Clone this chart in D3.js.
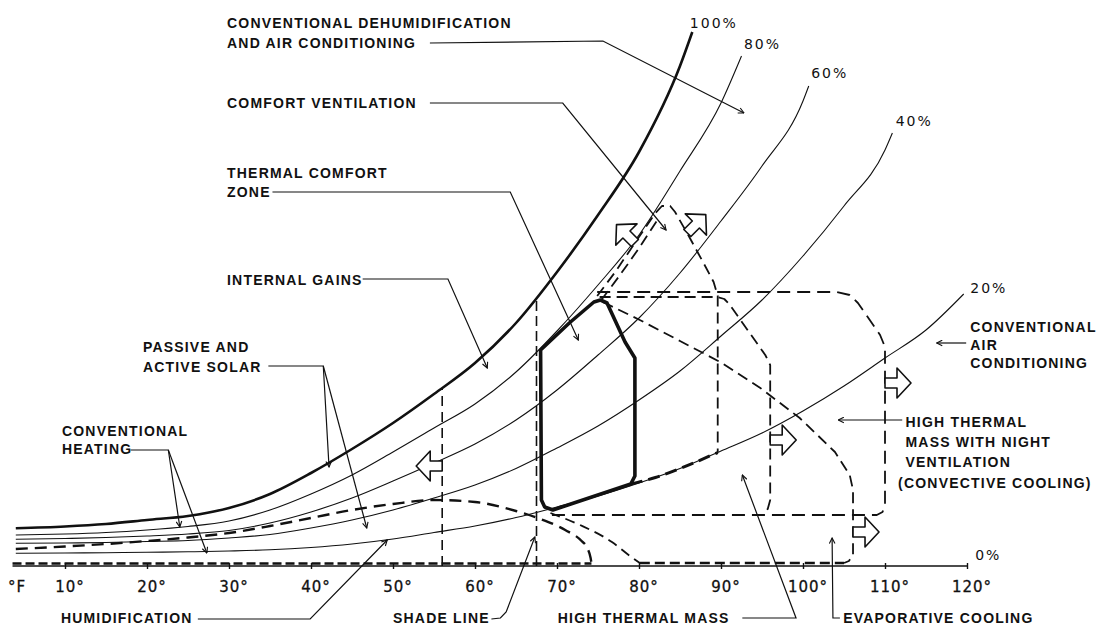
<!DOCTYPE html>
<html>
<head>
<meta charset="utf-8">
<script src="https://cdn.jsdelivr.net/npm/d3@7"></script>
<style>
body{margin:0;background:#fff}
svg{display:block}
.lbl{font-family:"Liberation Sans",Arial,sans-serif;font-weight:bold;font-size:14px;letter-spacing:1.2px;fill:#111}
.num{font-family:"DejaVu Sans",sans-serif;font-size:15px;letter-spacing:1px;fill:#111;stroke:#111;stroke-width:0.3}
.pct{font-family:"DejaVu Sans",sans-serif;font-size:14px;letter-spacing:2px;fill:#111}
</style>
</head>
<body>
<svg id="chart" width="1106" height="627"></svg>
<script>
// dry bulb ticks (deg F)
var tempTicks = [10,20,30,40,50,60,70,80,90,100,110,120];
var rhNames = ["100%","80%","60%","40%","20%","0%"];

// relative humidity curves [deg F, vapour index]
var rh100 = [[4,3.77],[10,3.95],[15,4.2],[20,4.6],[25,5.0],[30,5.8],[35,7.2],[40,9.3],[45,11.7],[50,14.3],[55,17.2],[60,20.3],[65,24.3],[70,29.4],[75,35.1],[80,41.4],[85,50.0],[86.5,53.4]];
var rh80 = [[4,3.1],[10,3.2],[15,3.35],[20,3.6],[25,3.95],[30,4.5],[35,5.6],[40,7.2],[45,9.1],[50,11.4],[55,13.8],[60,16.2],[65,19.4],[70,23.5],[75,28.1],[80,33.1],[85,39.5],[90,46.3],[92.5,51.0]];
var rh60 = [[4,2.67],[10,2.75],[15,2.85],[20,3.0],[25,3.2],[30,3.55],[35,4.3],[40,5.4],[45,6.8],[50,8.5],[55,10.3],[60,12.2],[65,14.6],[70,17.6],[75,21.1],[80,24.8],[85,29.3],[90,34.5],[95,40.0],[100,46.5],[100.7,48.0]];
var rh40 = [[4,2.27],[10,2.3],[15,2.35],[20,2.45],[25,2.55],[30,2.8],[35,3.15],[40,3.8],[45,4.6],[50,5.6],[55,6.8],[60,8.1],[65,9.75],[70,11.8],[75,14.0],[80,16.6],[85,19.5],[90,23.0],[95,26.6],[100,31.0],[105,36.0],[110,41.6],[110.9,43.3]];
var rh20 = [[4,1.27],[10,1.3],[15,1.33],[20,1.37],[25,1.42],[30,1.5],[35,1.62],[40,1.85],[45,2.2],[50,2.7],[55,3.35],[60,4.0],[65,4.85],[70,5.9],[75,7.0],[80,8.3],[85,9.75],[90,11.5],[95,13.3],[100,15.5],[105,18.0],[110,20.8],[115,23.6],[119.6,27.2]];
var rh0 = [[3.6,0],[120,0]];

// zone outlines
var humidTop = [[4,1.7],[10,1.95],[15,2.2],[20,2.5],[25,2.85],[30,3.3],[35,4.0],[40,4.8],[45,5.6],[50,6.2],[55,6.6],[60,6.4],[65,5.5],[68,4.7],[71,3.6],[73,2.5],[73.7,1.8],[74.1,0.8],[74.2,0.3]];
var humidBase = [[3.6,0.25],[74.2,0.25]];
var gainsLine = [[56,0],[56,17.8]];
var shadeLine = [[67.5,0],[67.5,26.8]];
var comfortZone = [[68,21.6],[71.5,24.3],[74.5,26.4],[75.3,26.6],[76.1,26.3],[78.3,22.4],[79.5,20.8],[79.5,9.0],[79.0,8.2],[69.5,5.6],[68.5,5.9],[68.1,6.6]];
var comfortLow = [[79.0,8.2],[82,8.85],[85,9.75],[89.6,11.35]];
var ventZone = [[74.9,27.0],[77.1,29.4],[79.5,32.3],[82.0,35.3],[82.8,36.0],[83.8,36.0],[84.4,35.4],[86.2,32.8],[88.0,30.1],[89.1,28.4],[89.6,27.0],[89.6,11.4]];
var ventEdge = [[75.4,26.6],[77.5,28.9],[80,31.8],[82.4,34.8]];
var massZone = [[75.2,26.9],[89.6,26.9],[90.4,26.7],[91.0,26.2],[95.4,21.1],[96.0,20.1],[96.0,6.6],[95.7,5.7],[95.0,5.3]];
var nightZone = [[74.9,27.4],[104.15,27.4],[105.7,27.1],[106.7,26.3],[109.4,23.1],[110.0,21.9],[110.0,6.1],[109.7,5.4],[109.0,5.1],[69.2,5.1]];
var evapTop = [[75.6,26.4],[80.1,24.6],[85.0,22.5],[89.9,20.4],[94.8,17.8],[99.6,14.8],[103.9,11.4],[105.7,9.1],[106.1,7.6],[106.1,1.1],[105.6,0.5],[105.0,0.3]];
var evapLow = [[69.2,5.3],[72.8,4.1],[76.7,2.4],[78.9,1.0],[80.1,0.3]];
var evapBase = [[80.1,0.3],[105.0,0.3]];

// hollow arrows on the zone edges
var shiftAt = [[56.0,10.0],[79.5,32.3],[85.9,33.3],[96.0,12.6],[110.0,18.3],[106.1,3.4]];
var shiftDir = [180,-135,-45,0,0,0];

// callout texts
var callTexts = ["CONVENTIONAL DEHUMIDIFICATION","AND AIR CONDITIONING","COMFORT VENTILATION","THERMAL COMFORT","ZONE","INTERNAL GAINS","PASSIVE AND","ACTIVE SOLAR","CONVENTIONAL","HEATING","HUMIDIFICATION","SHADE LINE","HIGH THERMAL MASS","EVAPORATIVE COOLING","CONVENTIONAL","AIR","CONDITIONING","HIGH THERMAL","MASS WITH NIGHT","VENTILATION","(CONVECTIVE COOLING)"];

var svg = d3.select("#chart");
var x = d3.scaleLinear().domain([0,120]).range([-17,967]);
var y = d3.scaleLinear().domain([0,54]).range([566,26]);

var smooth = d3.line().x(function(d){return x(d[0]);}).y(function(d){return y(d[1]);}).curve(d3.curveMonotoneX);
var poly = d3.line().x(function(d){return x(d[0]);}).y(function(d){return y(d[1]);});

svg.append("defs").append("marker")
	.attr("id","ah").attr("viewBox","0 0 10 10").attr("refX",9).attr("refY",5)
	.attr("markerWidth",7).attr("markerHeight",7).attr("markerUnits","userSpaceOnUse")
	.attr("orient","auto")
	.append("path").attr("d","M1,1 L9,5 L1,9").attr("fill","none").attr("stroke","#111").attr("stroke-width",1.6);

// RH curves
var curves = [rh100, rh80, rh60, rh40, rh20];
svg.selectAll("path.rh").data(curves).enter().append("path")
	.attr("class","rh")
	.attr("d", smooth)
	.attr("fill","none").attr("stroke","#111")
	.attr("stroke-width", function(d,i){ return i==0 ? 2.6 : 1.1; });

// zones
function dashed(data, gen, w, dash){
	svg.append("path").attr("d", gen(data)).attr("fill","none").attr("stroke","#111")
		.attr("stroke-width", w).attr("stroke-dasharray", dash).attr("stroke-linejoin","round");
}
dashed(humidTop, smooth, 2.4, "12,7");
dashed(humidBase, poly, 2.6, "9,4");
dashed(gainsLine, poly, 1.6, "10,6");
dashed(shadeLine, poly, 1.6, "10,5");
dashed(comfortLow, smooth, 3, "12,6");
dashed(ventZone, poly, 1.8, "11,6");
dashed(ventEdge, smooth, 1.8, "11,6");
dashed(massZone, poly, 1.8, "11,6");
dashed(nightZone, poly, 1.8, "13,7");
dashed(evapTop, poly, 1.8, "11,6");
dashed(evapLow, smooth, 1.8, "10,6");
dashed(evapBase, poly, 2.4, "10,5");

svg.append("path").attr("d", poly(comfortZone) + "Z")
	.attr("fill","none").attr("stroke","#111").attr("stroke-width",3.6).attr("stroke-linejoin","round");

// axis along 0%
svg.append("path").attr("d", poly(rh0)).attr("stroke","#111").attr("stroke-width",1.6);
var axis = d3.axisBottom(x).tickValues(tempTicks).tickSizeOuter(0).tickSizeInner(3)
	.tickFormat(function(d){ return d + "°"; });
var ax = svg.append("g").attr("transform","translate(0," + y(0) + ")").call(axis);
ax.select(".domain").remove();
ax.selectAll(".tick line").attr("y1",-3).attr("y2",3).attr("stroke","#111").attr("stroke-width",1.4);
ax.selectAll(".tick text").attr("class","num").attr("y",15).attr("dx","0.3em").attr("font-size",null).attr("font-family",null);
svg.append("text").attr("class","num").attr("x",8).attr("y",592).text("°F");

// hollow shift arrows
shiftAt.forEach(function(p,i){
	svg.append("path")
		.attr("d","M0,-5 H12 V-15 L26,0 L12,15 V5 H0 Z")
		.attr("transform","translate(" + x(p[0]) + "," + y(p[1]) + ") rotate(" + shiftDir[i] + ")")
		.attr("fill","#fff").attr("stroke","#111").attr("stroke-width",1.6).attr("stroke-linejoin","round");
});

// RH labels
var pctAt = [[86.2,53.8],[92.8,51.7],[101.0,48.8],[111.3,44.0],[120.4,27.3],[121.0,0.6]];
svg.selectAll("text.pct").data(rhNames).enter().append("text")
	.attr("class","pct")
	.attr("x", function(d,i){ return x(pctAt[i][0]); })
	.attr("y", function(d,i){ return y(pctAt[i][1]); })
	.text(function(d){ return d; });

// callouts
var callAt = [[29.76,53.8],[29.76,51.8],[29.76,45.8],[29.76,38.8],[29.76,36.9],[29.76,28.1],[19.5,21.4],[19.5,19.4],[9.63,13.0],[9.63,11.2],[9.5,-5.7],[50.0,-5.7],[70.1,-5.7],[104.9,-5.7],[120.4,23.4],[120.4,21.6],[120.4,19.8],[112.5,13.9],[112.5,11.9],[112.5,9.9],[111.6,7.8]];
svg.selectAll("text.lbl").data(callTexts).enter().append("text")
	.attr("class","lbl")
	.attr("x", function(d,i){ return x(callAt[i][0]); })
	.attr("y", function(d,i){ return y(callAt[i][1]); })
	.text(function(d){ return d; });

var leaders = [
	[[54.5,52.3],[75.6,52.5],[92.8,45.3]],
	[[54.5,46.3],[70.7,46.3],[83.3,33.6]],
	[[35.3,37.4],[64.3,37.4],[72.6,22.6]],
	[[46.3,28.7],[56.7,28.7],[61.5,19.8]],
	[[34.8,20.0],[41.5,20.0],[42.2,9.9]],
	[[41.5,20.0],[46.8,3.8]],
	[[18.0,11.6],[22.6,11.6],[24.0,3.9]],
	[[22.6,11.6],[27.3,1.3]],
	[[26.2,-5.3],[39.9,-5.3],[49.3,2.6]],
	[[62.0,-5.3],[63.1,-5.2],[63.8,-4.6],[67.3,2.9]],
	[[92.6,-5.2],[99.15,-5.2],[92.6,9.1]],
	[[104.5,-5.2],[103.65,-5.2],[103.55,2.8]],
	[[119.9,22.3],[116.3,22.3]],
	[[112.1,14.6],[104.3,14.6]]
];
svg.selectAll("path.lead").data(leaders).enter().append("path")
	.attr("class","lead")
	.attr("d", poly)
	.attr("fill","none").attr("stroke","#111").attr("stroke-width",1.2)
	.attr("marker-end","url(#ah)");
</script>
</body>
</html>
